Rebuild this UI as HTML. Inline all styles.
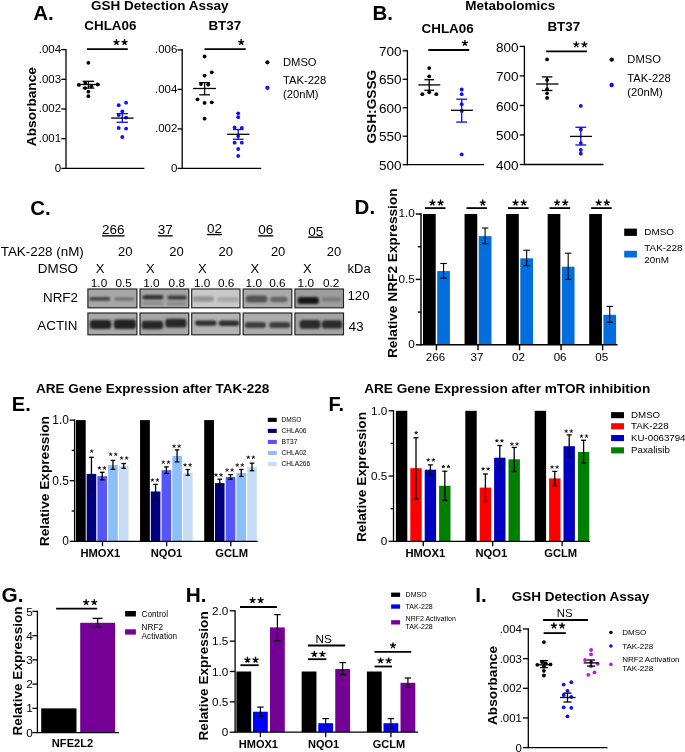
<!DOCTYPE html>
<html><head><meta charset="utf-8"><style>
html,body{margin:0;padding:0;background:#fff;}
body{width:685px;height:752px;overflow:hidden;}
svg{display:block;will-change:transform;font-family:"Liberation Sans",sans-serif;}
</style></head><body>
<svg width="685" height="752" viewBox="0 0 685 752">
<defs><filter id="bl" x="-20%" y="-50%" width="140%" height="200%"><feGaussianBlur stdDeviation="1.1"/></filter><filter id="bl2" x="-20%" y="-50%" width="140%" height="200%"><feGaussianBlur stdDeviation="0.8"/></filter><filter id="soft" x="0" y="0" width="100%" height="100%" filterUnits="userSpaceOnUse"><feGaussianBlur stdDeviation="0.4"/></filter></defs>
<rect width="685" height="752" fill="#fff"/>
<g filter="url(#soft)">
<text x="33.2" y="20" font-size="20.5" font-weight="bold">A.</text>
<text x="91" y="10" font-size="13.5" font-weight="bold">GSH Detection Assay</text>
<text x="84.3" y="30.4" font-size="13.4" font-weight="bold">CHLA06</text>
<line x1="66" y1="48.95" x2="66" y2="169.05" stroke="#000" stroke-width="1.3"/>
<line x1="61.3" y1="49.6" x2="66" y2="49.6" stroke="#000" stroke-width="1.3"/>
<text x="61.14" y="52.83" font-size="11.5" text-anchor="end">.004</text>
<line x1="61.3" y1="79.3" x2="66" y2="79.3" stroke="#000" stroke-width="1.3"/>
<text x="61.14" y="82.53" font-size="11.5" text-anchor="end">.003</text>
<line x1="61.3" y1="109" x2="66" y2="109" stroke="#000" stroke-width="1.3"/>
<text x="61.14" y="112.23" font-size="11.5" text-anchor="end">.002</text>
<line x1="61.3" y1="138.7" x2="66" y2="138.7" stroke="#000" stroke-width="1.3"/>
<text x="61.14" y="141.93" font-size="11.5" text-anchor="end">.001</text>
<line x1="61.3" y1="168.4" x2="66" y2="168.4" stroke="#000" stroke-width="1.3"/>
<text x="61.14" y="171.62" font-size="11.5" text-anchor="end">0</text>
<line x1="66" y1="168.4" x2="144.4" y2="168.4" stroke="#000" stroke-width="1.3"/>
<text transform="translate(35.7,106.6) rotate(-90)" text-anchor="middle" font-size="13.7" font-weight="bold">Absorbance</text>
<line x1="87" y1="49.2" x2="127.8" y2="49.2" stroke="#000" stroke-width="1.8"/>
<path d="M116.45 42.25L116.45 39.1M116.45 42.25L119.45 41.28M116.45 42.25L118.3 44.8M116.45 42.25L114.6 44.8M116.45 42.25L113.45 41.28" stroke="#000" stroke-width="1.35" fill="none"/>
<path d="M124.55 42.25L124.55 39.1M124.55 42.25L127.55 41.28M124.55 42.25L126.4 44.8M124.55 42.25L122.7 44.8M124.55 42.25L121.55 41.28" stroke="#000" stroke-width="1.35" fill="none"/>
<circle cx="88.4" cy="62.8" r="1.9" fill="#000"/>
<circle cx="78.9" cy="84.9" r="1.9" fill="#000"/>
<circle cx="97.7" cy="84.5" r="1.9" fill="#000"/>
<circle cx="91.4" cy="86.3" r="1.9" fill="#000"/>
<circle cx="85.1" cy="88.1" r="1.9" fill="#000"/>
<circle cx="88.4" cy="91.7" r="1.9" fill="#000"/>
<circle cx="88.4" cy="96.2" r="1.9" fill="#000"/>
<circle cx="85.3" cy="82.9" r="1.9" fill="#000"/>
<line x1="77" y1="84.5" x2="99.9" y2="84.5" stroke="#000" stroke-width="1.3"/>
<line x1="88.4" y1="81.3" x2="88.4" y2="88.1" stroke="#000" stroke-width="1.3"/>
<line x1="82.6" y1="81.3" x2="94.2" y2="81.3" stroke="#000" stroke-width="1.3"/>
<line x1="82.6" y1="88.1" x2="94.2" y2="88.1" stroke="#000" stroke-width="1.3"/>
<circle cx="118.7" cy="105.2" r="1.9" fill="#0a0aff"/>
<circle cx="126.1" cy="102.7" r="1.9" fill="#0a0aff"/>
<circle cx="122.3" cy="111.5" r="1.9" fill="#0a0aff"/>
<circle cx="118.7" cy="115.1" r="1.9" fill="#0a0aff"/>
<circle cx="126.1" cy="117.6" r="1.9" fill="#0a0aff"/>
<circle cx="118.7" cy="128" r="1.9" fill="#0a0aff"/>
<circle cx="126.1" cy="128.6" r="1.9" fill="#0a0aff"/>
<circle cx="122.3" cy="137" r="1.9" fill="#0a0aff"/>
<line x1="122.3" y1="113.6" x2="122.3" y2="122.3" stroke="#0a0aff" stroke-width="1.3"/>
<line x1="116.65" y1="113.6" x2="127.95" y2="113.6" stroke="#0a0aff" stroke-width="1.3"/>
<line x1="116.65" y1="122.3" x2="127.95" y2="122.3" stroke="#0a0aff" stroke-width="1.3"/>
<line x1="111.2" y1="118.1" x2="133.6" y2="118.1" stroke="#000" stroke-width="1.3"/>
<text x="208.4" y="30.4" font-size="13.4" font-weight="bold">BT37</text>
<line x1="182.2" y1="49.25" x2="182.2" y2="169.05" stroke="#000" stroke-width="1.3"/>
<line x1="177.5" y1="49.9" x2="182.2" y2="49.9" stroke="#000" stroke-width="1.3"/>
<text x="177.34" y="53.13" font-size="11.5" text-anchor="end">.006</text>
<line x1="177.5" y1="89.4" x2="182.2" y2="89.4" stroke="#000" stroke-width="1.3"/>
<text x="177.34" y="92.63" font-size="11.5" text-anchor="end">.004</text>
<line x1="177.5" y1="128.9" x2="182.2" y2="128.9" stroke="#000" stroke-width="1.3"/>
<text x="177.34" y="132.12" font-size="11.5" text-anchor="end">.002</text>
<line x1="177.5" y1="168.4" x2="182.2" y2="168.4" stroke="#000" stroke-width="1.3"/>
<text x="177.34" y="171.62" font-size="11.5" text-anchor="end">0</text>
<line x1="182.2" y1="168.4" x2="261.2" y2="168.4" stroke="#000" stroke-width="1.3"/>
<line x1="204.6" y1="49.2" x2="245.7" y2="49.2" stroke="#000" stroke-width="1.8"/>
<path d="M241.2 42.25L241.2 39.1M241.2 42.25L244.2 41.28M241.2 42.25L243.05 44.8M241.2 42.25L239.35 44.8M241.2 42.25L238.2 41.28" stroke="#000" stroke-width="1.35" fill="none"/>
<circle cx="204.6" cy="56.5" r="1.9" fill="#000"/>
<circle cx="211.8" cy="72.3" r="1.9" fill="#000"/>
<circle cx="204.6" cy="75.6" r="1.9" fill="#000"/>
<circle cx="201" cy="84" r="1.9" fill="#000"/>
<circle cx="208.2" cy="84.5" r="1.9" fill="#000"/>
<circle cx="197.5" cy="99.3" r="1.9" fill="#000"/>
<circle cx="204.6" cy="102.9" r="1.9" fill="#000"/>
<circle cx="211.8" cy="102.3" r="1.9" fill="#000"/>
<circle cx="204.6" cy="118.7" r="1.9" fill="#000"/>
<line x1="204.6" y1="82.6" x2="204.6" y2="94.8" stroke="#000" stroke-width="1.3"/>
<line x1="199.25" y1="82.6" x2="209.95" y2="82.6" stroke="#000" stroke-width="1.3"/>
<line x1="199.25" y1="94.8" x2="209.95" y2="94.8" stroke="#000" stroke-width="1.3"/>
<line x1="193" y1="88.5" x2="216" y2="88.5" stroke="#000" stroke-width="1.3"/>
<circle cx="238.2" cy="113.3" r="1.9" fill="#0a0aff"/>
<circle cx="238.2" cy="117.2" r="1.9" fill="#0a0aff"/>
<circle cx="234.6" cy="127.5" r="1.9" fill="#0a0aff"/>
<circle cx="241.8" cy="128" r="1.9" fill="#0a0aff"/>
<circle cx="238.2" cy="136.1" r="1.9" fill="#0a0aff"/>
<circle cx="234.6" cy="142.7" r="1.9" fill="#0a0aff"/>
<circle cx="241.8" cy="142.7" r="1.9" fill="#0a0aff"/>
<circle cx="238.2" cy="149" r="1.9" fill="#0a0aff"/>
<circle cx="238.2" cy="155.9" r="1.9" fill="#0a0aff"/>
<line x1="238.2" y1="129.5" x2="238.2" y2="139.3" stroke="#0a0aff" stroke-width="1.3"/>
<line x1="232.95" y1="129.5" x2="243.45" y2="129.5" stroke="#0a0aff" stroke-width="1.3"/>
<line x1="232.95" y1="139.3" x2="243.45" y2="139.3" stroke="#0a0aff" stroke-width="1.3"/>
<line x1="227.1" y1="134.3" x2="249.5" y2="134.3" stroke="#000" stroke-width="1.3"/>
<circle cx="267.4" cy="62.3" r="2.1" fill="#000"/>
<circle cx="267.4" cy="87.8" r="2.1" fill="#0a0aff"/>
<text x="283" y="65.9" font-size="11.2">DMSO</text>
<text x="283" y="84.3" font-size="11.2">TAK-228</text>
<text x="283" y="97.8" font-size="11.2">(20nM)</text>
<text x="372.4" y="20" font-size="20.5" font-weight="bold">B.</text>
<text x="465.3" y="10.2" font-size="13.5" font-weight="bold">Metabolomics</text>
<text x="421.6" y="32.5" font-size="13.4" font-weight="bold">CHLA06</text>
<line x1="407.4" y1="50.15" x2="407.4" y2="165.35" stroke="#000" stroke-width="1.3"/>
<line x1="402.7" y1="50.8" x2="407.4" y2="50.8" stroke="#000" stroke-width="1.3"/>
<text x="401.56" y="55.92" font-size="13.5" text-anchor="end">700</text>
<line x1="402.7" y1="79.27" x2="407.4" y2="79.27" stroke="#000" stroke-width="1.3"/>
<text x="401.56" y="84.4" font-size="13.5" text-anchor="end">650</text>
<line x1="402.7" y1="107.75" x2="407.4" y2="107.75" stroke="#000" stroke-width="1.3"/>
<text x="401.56" y="112.87" font-size="13.5" text-anchor="end">600</text>
<line x1="402.7" y1="136.22" x2="407.4" y2="136.22" stroke="#000" stroke-width="1.3"/>
<text x="401.56" y="141.35" font-size="13.5" text-anchor="end">550</text>
<line x1="402.7" y1="164.7" x2="407.4" y2="164.7" stroke="#000" stroke-width="1.3"/>
<text x="401.56" y="169.82" font-size="13.5" text-anchor="end">500</text>
<line x1="407.4" y1="164.7" x2="484.1" y2="164.7" stroke="#000" stroke-width="1.3"/>
<text transform="translate(375.7,106.7) rotate(-90)" text-anchor="middle" font-size="13.7" font-weight="bold">GSH:GSSG</text>
<line x1="428.3" y1="50" x2="469.2" y2="50" stroke="#000" stroke-width="1.8"/>
<path d="M464.9 43.15L464.9 40M464.9 43.15L467.9 42.18M464.9 43.15L466.75 45.7M464.9 43.15L463.05 45.7M464.9 43.15L461.9 42.18" stroke="#000" stroke-width="1.35" fill="none"/>
<circle cx="429.2" cy="68.1" r="1.9" fill="#000"/>
<circle cx="429.2" cy="76.3" r="1.9" fill="#000"/>
<circle cx="422.3" cy="94.2" r="1.9" fill="#000"/>
<circle cx="429.2" cy="92.3" r="1.9" fill="#000"/>
<circle cx="436.3" cy="94.2" r="1.9" fill="#000"/>
<line x1="429.2" y1="79.7" x2="429.2" y2="90.3" stroke="#000" stroke-width="1.3"/>
<line x1="424.35" y1="79.7" x2="434.05" y2="79.7" stroke="#000" stroke-width="1.3"/>
<line x1="424.35" y1="90.3" x2="434.05" y2="90.3" stroke="#000" stroke-width="1.3"/>
<line x1="418.4" y1="84.9" x2="440.3" y2="84.9" stroke="#000" stroke-width="1.3"/>
<circle cx="461.7" cy="89.5" r="1.9" fill="#0a0aff"/>
<circle cx="461.7" cy="94.2" r="1.9" fill="#0a0aff"/>
<circle cx="461.7" cy="104.2" r="1.9" fill="#0a0aff"/>
<circle cx="461.7" cy="110.9" r="1.9" fill="#0a0aff"/>
<circle cx="461.7" cy="154.4" r="1.9" fill="#0a0aff"/>
<line x1="461.7" y1="99.2" x2="461.7" y2="122.1" stroke="#0a0aff" stroke-width="1.3"/>
<line x1="456.3" y1="99.2" x2="467.1" y2="99.2" stroke="#0a0aff" stroke-width="1.3"/>
<line x1="456.3" y1="122.1" x2="467.1" y2="122.1" stroke="#0a0aff" stroke-width="1.3"/>
<line x1="451" y1="110.3" x2="472.9" y2="110.3" stroke="#000" stroke-width="1.3"/>
<text x="547.4" y="30.7" font-size="13.4" font-weight="bold">BT37</text>
<line x1="524.4" y1="45.75" x2="524.4" y2="165.15" stroke="#000" stroke-width="1.3"/>
<line x1="519.7" y1="46.4" x2="524.4" y2="46.4" stroke="#000" stroke-width="1.3"/>
<text x="518.56" y="51.53" font-size="13.5" text-anchor="end">800</text>
<line x1="519.7" y1="75.93" x2="524.4" y2="75.93" stroke="#000" stroke-width="1.3"/>
<text x="518.56" y="81.05" font-size="13.5" text-anchor="end">700</text>
<line x1="519.7" y1="105.45" x2="524.4" y2="105.45" stroke="#000" stroke-width="1.3"/>
<text x="518.56" y="110.58" font-size="13.5" text-anchor="end">600</text>
<line x1="519.7" y1="134.97" x2="524.4" y2="134.97" stroke="#000" stroke-width="1.3"/>
<text x="518.56" y="140.1" font-size="13.5" text-anchor="end">500</text>
<line x1="519.7" y1="164.5" x2="524.4" y2="164.5" stroke="#000" stroke-width="1.3"/>
<text x="518.56" y="169.62" font-size="13.5" text-anchor="end">400</text>
<line x1="524.4" y1="164.5" x2="603.5" y2="164.5" stroke="#000" stroke-width="1.3"/>
<line x1="546.2" y1="51.3" x2="586.9" y2="51.3" stroke="#000" stroke-width="1.8"/>
<path d="M576.35 44.55L576.35 41.4M576.35 44.55L579.35 43.58M576.35 44.55L578.2 47.1M576.35 44.55L574.5 47.1M576.35 44.55L573.35 43.58" stroke="#000" stroke-width="1.35" fill="none"/>
<path d="M584.45 44.55L584.45 41.4M584.45 44.55L587.45 43.58M584.45 44.55L586.3 47.1M584.45 44.55L582.6 47.1M584.45 44.55L581.45 43.58" stroke="#000" stroke-width="1.35" fill="none"/>
<circle cx="547.1" cy="59.4" r="1.9" fill="#000"/>
<circle cx="547.1" cy="79.9" r="1.9" fill="#000"/>
<circle cx="547.1" cy="89.2" r="1.9" fill="#000"/>
<circle cx="547.1" cy="93.3" r="1.9" fill="#000"/>
<circle cx="547.1" cy="97.9" r="1.9" fill="#000"/>
<line x1="547.1" y1="76.9" x2="547.1" y2="90.5" stroke="#000" stroke-width="1.3"/>
<line x1="541.8" y1="76.9" x2="552.4" y2="76.9" stroke="#000" stroke-width="1.3"/>
<line x1="541.8" y1="90.5" x2="552.4" y2="90.5" stroke="#000" stroke-width="1.3"/>
<line x1="536.1" y1="84" x2="558.5" y2="84" stroke="#000" stroke-width="1.3"/>
<circle cx="580.8" cy="105.9" r="1.9" fill="#0a0aff"/>
<circle cx="580.8" cy="129.5" r="1.9" fill="#0a0aff"/>
<circle cx="580.8" cy="143.1" r="1.9" fill="#0a0aff"/>
<circle cx="580.8" cy="150" r="1.9" fill="#0a0aff"/>
<circle cx="580.8" cy="153.7" r="1.9" fill="#0a0aff"/>
<line x1="580.8" y1="127.3" x2="580.8" y2="145" stroke="#0a0aff" stroke-width="1.3"/>
<line x1="575.4" y1="127.3" x2="586.2" y2="127.3" stroke="#0a0aff" stroke-width="1.3"/>
<line x1="575.4" y1="145" x2="586.2" y2="145" stroke="#0a0aff" stroke-width="1.3"/>
<line x1="570" y1="136.4" x2="592" y2="136.4" stroke="#000" stroke-width="1.3"/>
<circle cx="611.7" cy="59.6" r="2.2" fill="#000"/>
<circle cx="611.7" cy="85" r="2.2" fill="#0a0aff"/>
<text x="627.3" y="63.4" font-size="11.2">DMSO</text>
<text x="627.3" y="82.3" font-size="11.2">TAK-228</text>
<text x="627.3" y="95.6" font-size="11.2">(20nM)</text>
<text x="30.2" y="214.5" font-size="20.5" font-weight="bold">C.</text>
<text x="102" y="234.2" font-size="13.5" text-decoration="underline">266</text>
<text x="157.7" y="234.2" font-size="13.5" text-decoration="underline">37</text>
<text x="206.9" y="232.9" font-size="13.5" text-decoration="underline">02</text>
<text x="258.2" y="234.2" font-size="13.5" text-decoration="underline">06</text>
<text x="308.2" y="235.5" font-size="13.5" text-decoration="underline">05</text>
<text x="83.8" y="256.1" font-size="13.4" text-anchor="end">TAK-228 (nM)</text>
<text x="118" y="256" font-size="13">20</text>
<text x="169.2" y="256" font-size="13">20</text>
<text x="218.5" y="256" font-size="13">20</text>
<text x="270.9" y="256" font-size="13">20</text>
<text x="326.8" y="256" font-size="13">20</text>
<text x="78" y="273" font-size="13.4" text-anchor="end">DMSO</text>
<text x="95.7" y="273" font-size="13">X</text>
<text x="146.1" y="273" font-size="13">X</text>
<text x="198.1" y="273" font-size="13">X</text>
<text x="250.5" y="273" font-size="13">X</text>
<text x="303" y="273" font-size="13">X</text>
<text x="347.5" y="273.2" font-size="13">kDa</text>
<text x="90.8" y="287.2" font-size="11.8">1.0</text>
<text x="143.2" y="287.2" font-size="11.8">1.0</text>
<text x="194" y="287.2" font-size="11.8">1.0</text>
<text x="245.6" y="287.2" font-size="11.8">1.0</text>
<text x="297.6" y="287.2" font-size="11.8">1.0</text>
<text x="115.4" y="287.2" font-size="11.8">0.5</text>
<text x="168.6" y="287.2" font-size="11.8">0.8</text>
<text x="217.9" y="287.2" font-size="11.8">0.6</text>
<text x="269.2" y="287.2" font-size="11.8">0.6</text>
<text x="323" y="287.2" font-size="11.8">0.2</text>
<text x="78" y="302.1" font-size="13.4" text-anchor="end">NRF2</text>
<text x="77.5" y="330.2" font-size="13.4" text-anchor="end">ACTIN</text>
<text x="347.5" y="300.1" font-size="13.2">120</text>
<text x="348.8" y="330.5" font-size="13.2">43</text>
<rect x="87.9" y="289" width="49" height="18.8" fill="#a7a7a7"/>
<g filter="url(#bl)">
<rect x="89.3" y="297.1" width="20.9" height="3.6" rx="1.8" fill="#454545"/>
<rect x="114.2" y="297.4" width="19.8" height="3" rx="1.5" fill="#6a6a6a"/>
</g>
<rect x="87.9" y="289" width="49" height="18.8" fill="none" stroke="#222" stroke-width="1.15"/>
<rect x="87.9" y="313" width="49" height="21.8" fill="#a9a9a9"/>
<g filter="url(#bl2)">
<rect x="89.8" y="319.9" width="21.5" height="9" rx="3.2" fill="#222222"/>
<rect x="113.8" y="319.6" width="22.2" height="9.4" rx="3.2" fill="#222222"/>
</g>
<rect x="87.9" y="313" width="49" height="21.8" fill="none" stroke="#222" stroke-width="1.15"/>
<rect x="140" y="289" width="48.8" height="18.8" fill="#a5a5a5"/>
<g filter="url(#bl)">
<rect x="142.4" y="295.1" width="21" height="4.4" rx="2.2" fill="#333333"/>
<rect x="167.3" y="295.4" width="19.5" height="4.4" rx="2.2" fill="#3e3e3e"/>
<rect x="142" y="302" width="21" height="2.6" rx="1.3" fill="#878787"/>
<rect x="167" y="302.3" width="19.5" height="2.6" rx="1.3" fill="#838383"/>
</g>
<rect x="140" y="289" width="48.8" height="18.8" fill="none" stroke="#222" stroke-width="1.15"/>
<rect x="140" y="313" width="48.8" height="21.8" fill="#a6a6a6"/>
<g filter="url(#bl2)">
<rect x="141.6" y="320.8" width="21.5" height="8.4" rx="3.2" fill="#252525"/>
<rect x="165.3" y="318.8" width="21.1" height="8.8" rx="3.2" fill="#252525"/>
</g>
<rect x="140" y="313" width="48.8" height="21.8" fill="none" stroke="#222" stroke-width="1.15"/>
<rect x="191.7" y="289" width="48.3" height="18.8" fill="#c9c9c9"/>
<g filter="url(#bl)">
<rect x="192.8" y="296.25" width="21.2" height="5.5" rx="2.75" fill="#959595"/>
<rect x="217" y="296.9" width="21.5" height="5" rx="2.5" fill="#a8a8a8"/>
</g>
<rect x="191.7" y="289" width="48.3" height="18.8" fill="none" stroke="#222" stroke-width="1.15"/>
<rect x="191.7" y="313" width="48.3" height="21.8" fill="#b3b3b3"/>
<g filter="url(#bl2)">
<rect x="195" y="320.4" width="21.6" height="5.4" rx="2.7" fill="#2e2e2e"/>
<rect x="218.7" y="320.6" width="20.5" height="5.4" rx="2.7" fill="#2e2e2e"/>
</g>
<rect x="191.7" y="313" width="48.3" height="21.8" fill="none" stroke="#222" stroke-width="1.15"/>
<rect x="243.1" y="289" width="48.7" height="18.8" fill="#aaaaaa"/>
<g filter="url(#bl)">
<rect x="245.8" y="295.5" width="21.7" height="7" rx="3.2" fill="#525252"/>
<rect x="270.2" y="296.7" width="17.3" height="5.6" rx="2.8" fill="#646464"/>
</g>
<rect x="243.1" y="289" width="48.7" height="18.8" fill="none" stroke="#222" stroke-width="1.15"/>
<rect x="243.1" y="313" width="48.7" height="21.8" fill="#ababab"/>
<g filter="url(#bl2)">
<rect x="244.8" y="321.9" width="21.2" height="6.2" rx="3.1" fill="#3e3e3e"/>
<rect x="269.2" y="321.9" width="21.1" height="6.2" rx="3.1" fill="#3e3e3e"/>
</g>
<rect x="243.1" y="313" width="48.7" height="21.8" fill="none" stroke="#222" stroke-width="1.15"/>
<rect x="294.9" y="289" width="48.6" height="18.8" fill="#9d9d9d"/>
<g filter="url(#bl)">
<rect x="297.6" y="296.9" width="21.3" height="7" rx="3.2" fill="#121212"/>
<rect x="321.7" y="297.2" width="19.7" height="4.2" rx="2.1" fill="#7c7c7c"/>
</g>
<rect x="294.9" y="289" width="48.6" height="18.8" fill="none" stroke="#222" stroke-width="1.15"/>
<rect x="294.9" y="313" width="48.6" height="21.8" fill="#a3a3a3"/>
<g filter="url(#bl2)">
<rect x="299.6" y="320" width="20.9" height="8.8" rx="3.2" fill="#2b2b2b"/>
<rect x="322" y="320.2" width="20.1" height="8.4" rx="3.2" fill="#2b2b2b"/>
</g>
<rect x="294.9" y="313" width="48.6" height="21.8" fill="none" stroke="#222" stroke-width="1.15"/>
<text x="354.6" y="214.2" font-size="20.5" font-weight="bold">D.</text>
<line x1="421" y1="213.28" x2="421" y2="345.53" stroke="#000" stroke-width="1.45"/>
<line x1="415.8" y1="214" x2="421" y2="214" stroke="#000" stroke-width="1.45"/>
<text x="414.86" y="217.33" font-size="11.8" text-anchor="end">1.0</text>
<line x1="415.8" y1="279.4" x2="421" y2="279.4" stroke="#000" stroke-width="1.45"/>
<text x="414.86" y="282.73" font-size="11.8" text-anchor="end">0.5</text>
<line x1="415.8" y1="344.8" x2="421" y2="344.8" stroke="#000" stroke-width="1.45"/>
<text x="414.86" y="348.13" font-size="11.8" text-anchor="end">0</text>
<line x1="417.88" y1="246.7" x2="421" y2="246.7" stroke="#000" stroke-width="1.45"/>
<line x1="417.88" y1="312.1" x2="421" y2="312.1" stroke="#000" stroke-width="1.45"/>
<text transform="translate(396.5,273.2) rotate(-90)" text-anchor="middle" font-size="13.7" font-weight="bold">Relative NRF2 Expression</text>
<rect x="423" y="214" width="12.7" height="130.8" fill="#000"/>
<rect x="437.2" y="271.1" width="12.7" height="73.7" fill="#006edc"/>
<line x1="443.55" y1="263.5" x2="443.55" y2="278.1" stroke="#000" stroke-width="1.1"/>
<line x1="440.3" y1="263.5" x2="446.8" y2="263.5" stroke="#000" stroke-width="1.1"/>
<line x1="440.3" y1="278.1" x2="446.8" y2="278.1" stroke="#000" stroke-width="1.1"/>
<line x1="436.45" y1="344.8" x2="436.45" y2="350.3" stroke="#000" stroke-width="1.4"/>
<text x="435.45" y="360.9" font-size="11.6" text-anchor="middle">266</text>
<line x1="424.9" y1="208.1" x2="445.5" y2="208.1" stroke="#000" stroke-width="1.8"/>
<path d="M432.45 202.75L432.45 199.6M432.45 202.75L435.45 201.78M432.45 202.75L434.3 205.3M432.45 202.75L430.6 205.3M432.45 202.75L429.45 201.78" stroke="#000" stroke-width="1.35" fill="none"/>
<path d="M440.55 202.75L440.55 199.6M440.55 202.75L443.55 201.78M440.55 202.75L442.4 205.3M440.55 202.75L438.7 205.3M440.55 202.75L437.55 201.78" stroke="#000" stroke-width="1.35" fill="none"/>
<rect x="464.55" y="214" width="12.7" height="130.8" fill="#000"/>
<rect x="478.75" y="236.1" width="12.7" height="108.7" fill="#006edc"/>
<line x1="485.1" y1="228" x2="485.1" y2="243.7" stroke="#000" stroke-width="1.1"/>
<line x1="481.85" y1="228" x2="488.35" y2="228" stroke="#000" stroke-width="1.1"/>
<line x1="481.85" y1="243.7" x2="488.35" y2="243.7" stroke="#000" stroke-width="1.1"/>
<line x1="478" y1="344.8" x2="478" y2="350.3" stroke="#000" stroke-width="1.4"/>
<text x="477" y="360.9" font-size="11.6" text-anchor="middle">37</text>
<line x1="466.45" y1="208.1" x2="487.05" y2="208.1" stroke="#000" stroke-width="1.8"/>
<path d="M482.75 202.75L482.75 199.6M482.75 202.75L485.75 201.78M482.75 202.75L484.6 205.3M482.75 202.75L480.9 205.3M482.75 202.75L479.75 201.78" stroke="#000" stroke-width="1.35" fill="none"/>
<rect x="506.1" y="214" width="12.7" height="130.8" fill="#000"/>
<rect x="520.3" y="258.3" width="12.7" height="86.5" fill="#006edc"/>
<line x1="526.65" y1="250.2" x2="526.65" y2="265.6" stroke="#000" stroke-width="1.1"/>
<line x1="523.4" y1="250.2" x2="529.9" y2="250.2" stroke="#000" stroke-width="1.1"/>
<line x1="523.4" y1="265.6" x2="529.9" y2="265.6" stroke="#000" stroke-width="1.1"/>
<line x1="519.55" y1="344.8" x2="519.55" y2="350.3" stroke="#000" stroke-width="1.4"/>
<text x="518.55" y="360.9" font-size="11.6" text-anchor="middle">02</text>
<line x1="508" y1="208.1" x2="528.6" y2="208.1" stroke="#000" stroke-width="1.8"/>
<path d="M515.55 202.75L515.55 199.6M515.55 202.75L518.55 201.78M515.55 202.75L517.4 205.3M515.55 202.75L513.7 205.3M515.55 202.75L512.55 201.78" stroke="#000" stroke-width="1.35" fill="none"/>
<path d="M523.65 202.75L523.65 199.6M523.65 202.75L526.65 201.78M523.65 202.75L525.5 205.3M523.65 202.75L521.8 205.3M523.65 202.75L520.65 201.78" stroke="#000" stroke-width="1.35" fill="none"/>
<rect x="547.65" y="214" width="12.7" height="130.8" fill="#000"/>
<rect x="561.85" y="266.7" width="12.7" height="78.1" fill="#006edc"/>
<line x1="568.2" y1="253.2" x2="568.2" y2="279.4" stroke="#000" stroke-width="1.1"/>
<line x1="564.95" y1="253.2" x2="571.45" y2="253.2" stroke="#000" stroke-width="1.1"/>
<line x1="564.95" y1="279.4" x2="571.45" y2="279.4" stroke="#000" stroke-width="1.1"/>
<line x1="561.1" y1="344.8" x2="561.1" y2="350.3" stroke="#000" stroke-width="1.4"/>
<text x="560.1" y="360.9" font-size="11.6" text-anchor="middle">06</text>
<line x1="549.55" y1="208.1" x2="570.15" y2="208.1" stroke="#000" stroke-width="1.8"/>
<path d="M557.1 202.75L557.1 199.6M557.1 202.75L560.1 201.78M557.1 202.75L558.95 205.3M557.1 202.75L555.25 205.3M557.1 202.75L554.1 201.78" stroke="#000" stroke-width="1.35" fill="none"/>
<path d="M565.2 202.75L565.2 199.6M565.2 202.75L568.2 201.78M565.2 202.75L567.05 205.3M565.2 202.75L563.35 205.3M565.2 202.75L562.2 201.78" stroke="#000" stroke-width="1.35" fill="none"/>
<rect x="589.2" y="214" width="12.7" height="130.8" fill="#000"/>
<rect x="603.4" y="314.8" width="12.7" height="30" fill="#006edc"/>
<line x1="609.75" y1="306.4" x2="609.75" y2="322.3" stroke="#000" stroke-width="1.1"/>
<line x1="606.5" y1="306.4" x2="613" y2="306.4" stroke="#000" stroke-width="1.1"/>
<line x1="606.5" y1="322.3" x2="613" y2="322.3" stroke="#000" stroke-width="1.1"/>
<line x1="602.65" y1="344.8" x2="602.65" y2="350.3" stroke="#000" stroke-width="1.4"/>
<text x="601.65" y="360.9" font-size="11.6" text-anchor="middle">05</text>
<line x1="591.1" y1="208.1" x2="611.7" y2="208.1" stroke="#000" stroke-width="1.8"/>
<path d="M598.65 202.75L598.65 199.6M598.65 202.75L601.65 201.78M598.65 202.75L600.5 205.3M598.65 202.75L596.8 205.3M598.65 202.75L595.65 201.78" stroke="#000" stroke-width="1.35" fill="none"/>
<path d="M606.75 202.75L606.75 199.6M606.75 202.75L609.75 201.78M606.75 202.75L608.6 205.3M606.75 202.75L604.9 205.3M606.75 202.75L603.75 201.78" stroke="#000" stroke-width="1.35" fill="none"/>
<line x1="421" y1="344.8" x2="617.5" y2="344.8" stroke="#000" stroke-width="1.45"/>
<rect x="624.2" y="228.6" width="12.7" height="7.3" fill="#000"/>
<rect x="624.2" y="250.8" width="12.7" height="6.7" fill="#006edc"/>
<text x="644.3" y="235.3" font-size="9.9">DMSO</text>
<text x="644.3" y="251.3" font-size="9.9">TAK-228</text>
<text x="644.3" y="262.8" font-size="9.9">20nM</text>
<text x="11.8" y="411.4" font-size="20" font-weight="bold">E.</text>
<text x="36.1" y="393.4" font-size="13.5" font-weight="bold">ARE Gene Expression after TAK-228</text>
<line x1="74.6" y1="419.45" x2="74.6" y2="541.95" stroke="#000" stroke-width="1.3"/>
<line x1="69.7" y1="420.1" x2="74.6" y2="420.1" stroke="#000" stroke-width="1.3"/>
<text x="68.87" y="424.26" font-size="11.9" text-anchor="end">1.0</text>
<line x1="69.7" y1="480.7" x2="74.6" y2="480.7" stroke="#000" stroke-width="1.3"/>
<text x="68.87" y="484.86" font-size="11.9" text-anchor="end">0.5</text>
<line x1="69.7" y1="541.3" x2="74.6" y2="541.3" stroke="#000" stroke-width="1.3"/>
<text x="68.87" y="545.46" font-size="11.9" text-anchor="end">0</text>
<line x1="71.66" y1="450.4" x2="74.6" y2="450.4" stroke="#000" stroke-width="1.3"/>
<line x1="71.66" y1="511" x2="74.6" y2="511" stroke="#000" stroke-width="1.3"/>
<text transform="translate(49.1,481.1) rotate(-90)" text-anchor="middle" font-size="13.7" font-weight="bold">Relative Expression</text>
<rect x="75.9" y="420.1" width="9.8" height="121.2" fill="#000"/>
<rect x="86.65" y="473.9" width="9.6" height="67.4" fill="#00007f"/>
<rect x="97.4" y="476.1" width="9.6" height="65.2" fill="#5555fa"/>
<rect x="108.15" y="465" width="9.6" height="76.3" fill="#8cbef8"/>
<rect x="118.9" y="465.9" width="9.6" height="75.4" fill="#c6dcf7"/>
<line x1="91.45" y1="457.3" x2="91.45" y2="490" stroke="#000" stroke-width="1.3"/>
<line x1="89.15" y1="457.3" x2="93.75" y2="457.3" stroke="#000" stroke-width="1.3"/>
<line x1="89.15" y1="490" x2="93.75" y2="490" stroke="#000" stroke-width="1.3"/>
<path d="M91.7 451.25L91.7 449.5M91.7 451.25L93.36 450.71M91.7 451.25L92.73 452.67M91.7 451.25L90.67 452.67M91.7 451.25L90.04 450.71" stroke="#000" stroke-width="0.95" fill="none"/>
<line x1="102.2" y1="472.3" x2="102.2" y2="479.8" stroke="#000" stroke-width="1.3"/>
<line x1="99.9" y1="472.3" x2="104.5" y2="472.3" stroke="#000" stroke-width="1.3"/>
<line x1="99.9" y1="479.8" x2="104.5" y2="479.8" stroke="#000" stroke-width="1.3"/>
<path d="M99.35 468.05L99.35 466.3M99.35 468.05L101.01 467.51M99.35 468.05L100.38 469.47M99.35 468.05L98.32 469.47M99.35 468.05L97.69 467.51" stroke="#000" stroke-width="0.95" fill="none"/>
<path d="M104.45 468.05L104.45 466.3M104.45 468.05L106.11 467.51M104.45 468.05L105.48 469.47M104.45 468.05L103.42 469.47M104.45 468.05L102.79 467.51" stroke="#000" stroke-width="0.95" fill="none"/>
<line x1="112.95" y1="460.4" x2="112.95" y2="469.3" stroke="#000" stroke-width="1.3"/>
<line x1="110.65" y1="460.4" x2="115.25" y2="460.4" stroke="#000" stroke-width="1.3"/>
<line x1="110.65" y1="469.3" x2="115.25" y2="469.3" stroke="#000" stroke-width="1.3"/>
<path d="M110.65 454.35L110.65 452.6M110.65 454.35L112.31 453.81M110.65 454.35L111.68 455.77M110.65 454.35L109.62 455.77M110.65 454.35L108.99 453.81" stroke="#000" stroke-width="0.95" fill="none"/>
<path d="M115.75 454.35L115.75 452.6M115.75 454.35L117.41 453.81M115.75 454.35L116.78 455.77M115.75 454.35L114.72 455.77M115.75 454.35L114.09 453.81" stroke="#000" stroke-width="0.95" fill="none"/>
<line x1="123.7" y1="463.5" x2="123.7" y2="468.3" stroke="#000" stroke-width="1.3"/>
<line x1="121.4" y1="463.5" x2="126" y2="463.5" stroke="#000" stroke-width="1.3"/>
<line x1="121.4" y1="468.3" x2="126" y2="468.3" stroke="#000" stroke-width="1.3"/>
<path d="M121.55 458.15L121.55 456.4M121.55 458.15L123.21 457.61M121.55 458.15L122.58 459.57M121.55 458.15L120.52 459.57M121.55 458.15L119.89 457.61" stroke="#000" stroke-width="0.95" fill="none"/>
<path d="M126.65 458.15L126.65 456.4M126.65 458.15L128.31 457.61M126.65 458.15L127.68 459.57M126.65 458.15L125.62 459.57M126.65 458.15L124.99 457.61" stroke="#000" stroke-width="0.95" fill="none"/>
<line x1="102.5" y1="541.3" x2="102.5" y2="546.3" stroke="#000" stroke-width="1.3"/>
<text x="100.3" y="557.1" font-size="11.2" font-weight="bold" text-anchor="middle">HMOX1</text>
<rect x="140.05" y="420.1" width="9.8" height="121.2" fill="#000"/>
<rect x="150.8" y="491.5" width="9.6" height="49.8" fill="#00007f"/>
<rect x="161.55" y="470.2" width="9.6" height="71.1" fill="#5555fa"/>
<rect x="172.3" y="456" width="9.6" height="85.3" fill="#8cbef8"/>
<rect x="183.05" y="472.8" width="9.6" height="68.5" fill="#c6dcf7"/>
<line x1="155.6" y1="484.4" x2="155.6" y2="499.6" stroke="#000" stroke-width="1.3"/>
<line x1="153.3" y1="484.4" x2="157.9" y2="484.4" stroke="#000" stroke-width="1.3"/>
<line x1="153.3" y1="499.6" x2="157.9" y2="499.6" stroke="#000" stroke-width="1.3"/>
<path d="M152.35 480.15L152.35 478.4M152.35 480.15L154.01 479.61M152.35 480.15L153.38 481.57M152.35 480.15L151.32 481.57M152.35 480.15L150.69 479.61" stroke="#000" stroke-width="0.95" fill="none"/>
<path d="M157.45 480.15L157.45 478.4M157.45 480.15L159.11 479.61M157.45 480.15L158.48 481.57M157.45 480.15L156.42 481.57M157.45 480.15L155.79 479.61" stroke="#000" stroke-width="0.95" fill="none"/>
<line x1="166.35" y1="466.9" x2="166.35" y2="473.4" stroke="#000" stroke-width="1.3"/>
<line x1="164.05" y1="466.9" x2="168.65" y2="466.9" stroke="#000" stroke-width="1.3"/>
<line x1="164.05" y1="473.4" x2="168.65" y2="473.4" stroke="#000" stroke-width="1.3"/>
<path d="M163.35 462.25L163.35 460.5M163.35 462.25L165.01 461.71M163.35 462.25L164.38 463.67M163.35 462.25L162.32 463.67M163.35 462.25L161.69 461.71" stroke="#000" stroke-width="0.95" fill="none"/>
<path d="M168.45 462.25L168.45 460.5M168.45 462.25L170.11 461.71M168.45 462.25L169.48 463.67M168.45 462.25L167.42 463.67M168.45 462.25L166.79 461.71" stroke="#000" stroke-width="0.95" fill="none"/>
<line x1="177.1" y1="449.9" x2="177.1" y2="461.9" stroke="#000" stroke-width="1.3"/>
<line x1="174.8" y1="449.9" x2="179.4" y2="449.9" stroke="#000" stroke-width="1.3"/>
<line x1="174.8" y1="461.9" x2="179.4" y2="461.9" stroke="#000" stroke-width="1.3"/>
<path d="M174.05 446.25L174.05 444.5M174.05 446.25L175.71 445.71M174.05 446.25L175.08 447.67M174.05 446.25L173.02 447.67M174.05 446.25L172.39 445.71" stroke="#000" stroke-width="0.95" fill="none"/>
<path d="M179.15 446.25L179.15 444.5M179.15 446.25L180.81 445.71M179.15 446.25L180.18 447.67M179.15 446.25L178.12 447.67M179.15 446.25L177.49 445.71" stroke="#000" stroke-width="0.95" fill="none"/>
<line x1="187.85" y1="469.5" x2="187.85" y2="475.3" stroke="#000" stroke-width="1.3"/>
<line x1="185.55" y1="469.5" x2="190.15" y2="469.5" stroke="#000" stroke-width="1.3"/>
<line x1="185.55" y1="475.3" x2="190.15" y2="475.3" stroke="#000" stroke-width="1.3"/>
<path d="M185.05 465.05L185.05 463.3M185.05 465.05L186.71 464.51M185.05 465.05L186.08 466.47M185.05 465.05L184.02 466.47M185.05 465.05L183.39 464.51" stroke="#000" stroke-width="0.95" fill="none"/>
<path d="M190.15 465.05L190.15 463.3M190.15 465.05L191.81 464.51M190.15 465.05L191.18 466.47M190.15 465.05L189.12 466.47M190.15 465.05L188.49 464.51" stroke="#000" stroke-width="0.95" fill="none"/>
<line x1="166.65" y1="541.3" x2="166.65" y2="546.3" stroke="#000" stroke-width="1.3"/>
<text x="166.5" y="557.1" font-size="11.2" font-weight="bold" text-anchor="middle">NQO1</text>
<rect x="204.2" y="420.1" width="9.8" height="121.2" fill="#000"/>
<rect x="214.95" y="483.1" width="9.6" height="58.2" fill="#00007f"/>
<rect x="225.7" y="477" width="9.6" height="64.3" fill="#5555fa"/>
<rect x="236.45" y="472.9" width="9.6" height="68.4" fill="#8cbef8"/>
<rect x="247.2" y="467" width="9.6" height="74.3" fill="#c6dcf7"/>
<line x1="219.75" y1="479.2" x2="219.75" y2="486.8" stroke="#000" stroke-width="1.3"/>
<line x1="217.45" y1="479.2" x2="222.05" y2="479.2" stroke="#000" stroke-width="1.3"/>
<line x1="217.45" y1="486.8" x2="222.05" y2="486.8" stroke="#000" stroke-width="1.3"/>
<path d="M215.95 475.05L215.95 473.3M215.95 475.05L217.61 474.51M215.95 475.05L216.98 476.47M215.95 475.05L214.92 476.47M215.95 475.05L214.29 474.51" stroke="#000" stroke-width="0.95" fill="none"/>
<path d="M221.05 475.05L221.05 473.3M221.05 475.05L222.71 474.51M221.05 475.05L222.08 476.47M221.05 475.05L220.02 476.47M221.05 475.05L219.39 474.51" stroke="#000" stroke-width="0.95" fill="none"/>
<line x1="230.5" y1="474.6" x2="230.5" y2="479.2" stroke="#000" stroke-width="1.3"/>
<line x1="228.2" y1="474.6" x2="232.8" y2="474.6" stroke="#000" stroke-width="1.3"/>
<line x1="228.2" y1="479.2" x2="232.8" y2="479.2" stroke="#000" stroke-width="1.3"/>
<path d="M227.05 470.15L227.05 468.4M227.05 470.15L228.71 469.61M227.05 470.15L228.08 471.57M227.05 470.15L226.02 471.57M227.05 470.15L225.39 469.61" stroke="#000" stroke-width="0.95" fill="none"/>
<path d="M232.15 470.15L232.15 468.4M232.15 470.15L233.81 469.61M232.15 470.15L233.18 471.57M232.15 470.15L231.12 471.57M232.15 470.15L230.49 469.61" stroke="#000" stroke-width="0.95" fill="none"/>
<line x1="241.25" y1="469.5" x2="241.25" y2="476.4" stroke="#000" stroke-width="1.3"/>
<line x1="238.95" y1="469.5" x2="243.55" y2="469.5" stroke="#000" stroke-width="1.3"/>
<line x1="238.95" y1="476.4" x2="243.55" y2="476.4" stroke="#000" stroke-width="1.3"/>
<path d="M237.25 465.15L237.25 463.4M237.25 465.15L238.91 464.61M237.25 465.15L238.28 466.57M237.25 465.15L236.22 466.57M237.25 465.15L235.59 464.61" stroke="#000" stroke-width="0.95" fill="none"/>
<path d="M242.35 465.15L242.35 463.4M242.35 465.15L244.01 464.61M242.35 465.15L243.38 466.57M242.35 465.15L241.32 466.57M242.35 465.15L240.69 464.61" stroke="#000" stroke-width="0.95" fill="none"/>
<line x1="252" y1="463.2" x2="252" y2="470.7" stroke="#000" stroke-width="1.3"/>
<line x1="249.7" y1="463.2" x2="254.3" y2="463.2" stroke="#000" stroke-width="1.3"/>
<line x1="249.7" y1="470.7" x2="254.3" y2="470.7" stroke="#000" stroke-width="1.3"/>
<path d="M248.25 457.35L248.25 455.6M248.25 457.35L249.91 456.81M248.25 457.35L249.28 458.77M248.25 457.35L247.22 458.77M248.25 457.35L246.59 456.81" stroke="#000" stroke-width="0.95" fill="none"/>
<path d="M253.35 457.35L253.35 455.6M253.35 457.35L255.01 456.81M253.35 457.35L254.38 458.77M253.35 457.35L252.32 458.77M253.35 457.35L251.69 456.81" stroke="#000" stroke-width="0.95" fill="none"/>
<line x1="230.8" y1="541.3" x2="230.8" y2="546.3" stroke="#000" stroke-width="1.3"/>
<text x="231.7" y="557.1" font-size="11.2" font-weight="bold" text-anchor="middle">GCLM</text>
<line x1="74.6" y1="541.3" x2="257.7" y2="541.3" stroke="#000" stroke-width="1.3"/>
<rect x="267.8" y="417.8" width="9" height="4.1" fill="#000000"/>
<text x="281.6" y="422" font-size="6.6">DMSO</text>
<rect x="267.8" y="428.85" width="9" height="4.1" fill="#00007f"/>
<text x="281.6" y="433.05" font-size="6.6">CHLA06</text>
<rect x="267.8" y="439.9" width="9" height="4.1" fill="#5555fa"/>
<text x="281.6" y="444.1" font-size="6.6">BT37</text>
<rect x="267.8" y="450.95" width="9" height="4.1" fill="#8cbef8"/>
<text x="281.6" y="455.15" font-size="6.6">CHLA02</text>
<rect x="267.8" y="462" width="9" height="4.1" fill="#c6dcf7"/>
<text x="281.6" y="466.2" font-size="6.6">CHLA266</text>
<text x="328.6" y="410.7" font-size="20" font-weight="bold">F.</text>
<text x="364.2" y="392.7" font-size="13.6" font-weight="bold">ARE Gene Expression after mTOR inhibition</text>
<line x1="393.5" y1="410.15" x2="393.5" y2="541.95" stroke="#000" stroke-width="1.3"/>
<line x1="388.6" y1="410.8" x2="393.5" y2="410.8" stroke="#000" stroke-width="1.3"/>
<text x="387.26" y="414.89" font-size="11.7" text-anchor="end">1.0</text>
<line x1="388.6" y1="476.05" x2="393.5" y2="476.05" stroke="#000" stroke-width="1.3"/>
<text x="387.26" y="480.14" font-size="11.7" text-anchor="end">0.5</text>
<line x1="388.6" y1="541.3" x2="393.5" y2="541.3" stroke="#000" stroke-width="1.3"/>
<text x="387.26" y="545.39" font-size="11.7" text-anchor="end">0</text>
<line x1="390.56" y1="443.42" x2="393.5" y2="443.42" stroke="#000" stroke-width="1.3"/>
<line x1="390.56" y1="508.67" x2="393.5" y2="508.67" stroke="#000" stroke-width="1.3"/>
<text transform="translate(365.8,477) rotate(-90)" text-anchor="middle" font-size="13.7" font-weight="bold">Relative Expression</text>
<rect x="395.9" y="410.8" width="11.4" height="130.5" fill="#000"/>
<rect x="410.3" y="468.2" width="11.4" height="73.1" fill="#ff0000"/>
<rect x="424.7" y="469.7" width="11.4" height="71.6" fill="#0000c0"/>
<rect x="439.1" y="485.8" width="11.4" height="55.5" fill="#007f00"/>
<line x1="416" y1="437.7" x2="416" y2="498.9" stroke="#000" stroke-width="1.3"/>
<line x1="413.5" y1="437.7" x2="418.5" y2="437.7" stroke="#000" stroke-width="1.3"/>
<line x1="413.5" y1="498.9" x2="418.5" y2="498.9" stroke="#000" stroke-width="1.3"/>
<path d="M416.2 432.85L416.2 431.1M416.2 432.85L417.86 432.31M416.2 432.85L417.23 434.27M416.2 432.85L415.17 434.27M416.2 432.85L414.54 432.31" stroke="#000" stroke-width="0.95" fill="none"/>
<line x1="430.4" y1="464.9" x2="430.4" y2="474.9" stroke="#000" stroke-width="1.3"/>
<line x1="427.9" y1="464.9" x2="432.9" y2="464.9" stroke="#000" stroke-width="1.3"/>
<line x1="427.9" y1="474.9" x2="432.9" y2="474.9" stroke="#000" stroke-width="1.3"/>
<path d="M428.25 460.05L428.25 458.3M428.25 460.05L429.91 459.51M428.25 460.05L429.28 461.47M428.25 460.05L427.22 461.47M428.25 460.05L426.59 459.51" stroke="#000" stroke-width="0.95" fill="none"/>
<path d="M433.35 460.05L433.35 458.3M433.35 460.05L435.01 459.51M433.35 460.05L434.38 461.47M433.35 460.05L432.32 461.47M433.35 460.05L431.69 459.51" stroke="#000" stroke-width="0.95" fill="none"/>
<line x1="444.8" y1="471.2" x2="444.8" y2="500.4" stroke="#000" stroke-width="1.3"/>
<line x1="442.3" y1="471.2" x2="447.3" y2="471.2" stroke="#000" stroke-width="1.3"/>
<line x1="442.3" y1="500.4" x2="447.3" y2="500.4" stroke="#000" stroke-width="1.3"/>
<path d="M443.35 466.65L443.35 464.9M443.35 466.65L445.01 466.11M443.35 466.65L444.38 468.07M443.35 466.65L442.32 468.07M443.35 466.65L441.69 466.11" stroke="#000" stroke-width="0.95" fill="none"/>
<path d="M448.45 466.65L448.45 464.9M448.45 466.65L450.11 466.11M448.45 466.65L449.48 468.07M448.45 466.65L447.42 468.07M448.45 466.65L446.79 466.11" stroke="#000" stroke-width="0.95" fill="none"/>
<line x1="423.3" y1="541.3" x2="423.3" y2="546.3" stroke="#000" stroke-width="1.3"/>
<text x="425.3" y="556.8" font-size="11.2" font-weight="bold" text-anchor="middle">HMOX1</text>
<rect x="465.3" y="410.8" width="11.4" height="130.5" fill="#000"/>
<rect x="479.7" y="487.6" width="11.4" height="53.7" fill="#ff0000"/>
<rect x="494.1" y="457.7" width="11.4" height="83.6" fill="#0000c0"/>
<rect x="508.5" y="459.3" width="11.4" height="82" fill="#007f00"/>
<line x1="485.4" y1="474" x2="485.4" y2="501.4" stroke="#000" stroke-width="1.3"/>
<line x1="482.9" y1="474" x2="487.9" y2="474" stroke="#000" stroke-width="1.3"/>
<line x1="482.9" y1="501.4" x2="487.9" y2="501.4" stroke="#000" stroke-width="1.3"/>
<path d="M483.05 468.95L483.05 467.2M483.05 468.95L484.71 468.41M483.05 468.95L484.08 470.37M483.05 468.95L482.02 470.37M483.05 468.95L481.39 468.41" stroke="#000" stroke-width="0.95" fill="none"/>
<path d="M488.15 468.95L488.15 467.2M488.15 468.95L489.81 468.41M488.15 468.95L489.18 470.37M488.15 468.95L487.12 470.37M488.15 468.95L486.49 468.41" stroke="#000" stroke-width="0.95" fill="none"/>
<line x1="499.8" y1="445.5" x2="499.8" y2="469.4" stroke="#000" stroke-width="1.3"/>
<line x1="497.3" y1="445.5" x2="502.3" y2="445.5" stroke="#000" stroke-width="1.3"/>
<line x1="497.3" y1="469.4" x2="502.3" y2="469.4" stroke="#000" stroke-width="1.3"/>
<path d="M496.85 440.85L496.85 439.1M496.85 440.85L498.51 440.31M496.85 440.85L497.88 442.27M496.85 440.85L495.82 442.27M496.85 440.85L495.19 440.31" stroke="#000" stroke-width="0.95" fill="none"/>
<path d="M501.95 440.85L501.95 439.1M501.95 440.85L503.61 440.31M501.95 440.85L502.98 442.27M501.95 440.85L500.92 442.27M501.95 440.85L500.29 440.31" stroke="#000" stroke-width="0.95" fill="none"/>
<line x1="514.2" y1="447.4" x2="514.2" y2="471.5" stroke="#000" stroke-width="1.3"/>
<line x1="511.7" y1="447.4" x2="516.7" y2="447.4" stroke="#000" stroke-width="1.3"/>
<line x1="511.7" y1="471.5" x2="516.7" y2="471.5" stroke="#000" stroke-width="1.3"/>
<path d="M511.95 444.15L511.95 442.4M511.95 444.15L513.61 443.61M511.95 444.15L512.98 445.57M511.95 444.15L510.92 445.57M511.95 444.15L510.29 443.61" stroke="#000" stroke-width="0.95" fill="none"/>
<path d="M517.05 444.15L517.05 442.4M517.05 444.15L518.71 443.61M517.05 444.15L518.08 445.57M517.05 444.15L516.02 445.57M517.05 444.15L515.39 443.61" stroke="#000" stroke-width="0.95" fill="none"/>
<line x1="492.7" y1="541.3" x2="492.7" y2="546.3" stroke="#000" stroke-width="1.3"/>
<text x="491.3" y="556.8" font-size="11.2" font-weight="bold" text-anchor="middle">NQO1</text>
<rect x="534.7" y="410.8" width="11.4" height="130.5" fill="#000"/>
<rect x="549.1" y="478.4" width="11.4" height="62.9" fill="#ff0000"/>
<rect x="563.5" y="446.2" width="11.4" height="95.1" fill="#0000c0"/>
<rect x="577.9" y="451.9" width="11.4" height="89.4" fill="#007f00"/>
<line x1="554.8" y1="471.4" x2="554.8" y2="485.6" stroke="#000" stroke-width="1.3"/>
<line x1="552.3" y1="471.4" x2="557.3" y2="471.4" stroke="#000" stroke-width="1.3"/>
<line x1="552.3" y1="485.6" x2="557.3" y2="485.6" stroke="#000" stroke-width="1.3"/>
<path d="M552.05 467.15L552.05 465.4M552.05 467.15L553.71 466.61M552.05 467.15L553.08 468.57M552.05 467.15L551.02 468.57M552.05 467.15L550.39 466.61" stroke="#000" stroke-width="0.95" fill="none"/>
<path d="M557.15 467.15L557.15 465.4M557.15 467.15L558.81 466.61M557.15 467.15L558.18 468.57M557.15 467.15L556.12 468.57M557.15 467.15L555.49 466.61" stroke="#000" stroke-width="0.95" fill="none"/>
<line x1="569.2" y1="434.9" x2="569.2" y2="457.1" stroke="#000" stroke-width="1.3"/>
<line x1="566.7" y1="434.9" x2="571.7" y2="434.9" stroke="#000" stroke-width="1.3"/>
<line x1="566.7" y1="457.1" x2="571.7" y2="457.1" stroke="#000" stroke-width="1.3"/>
<path d="M566.15 431.25L566.15 429.5M566.15 431.25L567.81 430.71M566.15 431.25L567.18 432.67M566.15 431.25L565.12 432.67M566.15 431.25L564.49 430.71" stroke="#000" stroke-width="0.95" fill="none"/>
<path d="M571.25 431.25L571.25 429.5M571.25 431.25L572.91 430.71M571.25 431.25L572.28 432.67M571.25 431.25L570.22 432.67M571.25 431.25L569.59 430.71" stroke="#000" stroke-width="0.95" fill="none"/>
<line x1="583.6" y1="440.3" x2="583.6" y2="463" stroke="#000" stroke-width="1.3"/>
<line x1="581.1" y1="440.3" x2="586.1" y2="440.3" stroke="#000" stroke-width="1.3"/>
<line x1="581.1" y1="463" x2="586.1" y2="463" stroke="#000" stroke-width="1.3"/>
<path d="M581.45 436.25L581.45 434.5M581.45 436.25L583.11 435.71M581.45 436.25L582.48 437.67M581.45 436.25L580.42 437.67M581.45 436.25L579.79 435.71" stroke="#000" stroke-width="0.95" fill="none"/>
<path d="M586.55 436.25L586.55 434.5M586.55 436.25L588.21 435.71M586.55 436.25L587.58 437.67M586.55 436.25L585.52 437.67M586.55 436.25L584.89 435.71" stroke="#000" stroke-width="0.95" fill="none"/>
<line x1="562.1" y1="541.3" x2="562.1" y2="546.3" stroke="#000" stroke-width="1.3"/>
<text x="560.7" y="556.8" font-size="11.2" font-weight="bold" text-anchor="middle">GCLM</text>
<line x1="393.5" y1="541.3" x2="589.9" y2="541.3" stroke="#000" stroke-width="1.3"/>
<rect x="611.1" y="412.1" width="12.9" height="6.1" fill="#000000"/>
<text x="631.1" y="418" font-size="9.7">DMSO</text>
<rect x="611.1" y="423.2" width="12.9" height="6.1" fill="#ff0000"/>
<text x="631.1" y="429.1" font-size="9.7">TAK-228</text>
<rect x="611.1" y="435" width="12.9" height="6.1" fill="#0000c0"/>
<text x="631.1" y="440.9" font-size="9.7">KU-0063794</text>
<rect x="611.1" y="447.3" width="12.9" height="6.1" fill="#007f00"/>
<text x="631.1" y="453.2" font-size="9.7">Paxalisib</text>
<text x="1.6" y="602" font-size="20.8" font-weight="bold">G.</text>
<line x1="37.4" y1="610.75" x2="37.4" y2="733.25" stroke="#000" stroke-width="1.3"/>
<line x1="32.4" y1="611.4" x2="37.4" y2="611.4" stroke="#000" stroke-width="1.3"/>
<text x="32.86" y="615.53" font-size="11.8" text-anchor="end">5</text>
<line x1="32.4" y1="635.64" x2="37.4" y2="635.64" stroke="#000" stroke-width="1.3"/>
<text x="32.86" y="639.77" font-size="11.8" text-anchor="end">4</text>
<line x1="32.4" y1="659.88" x2="37.4" y2="659.88" stroke="#000" stroke-width="1.3"/>
<text x="32.86" y="664.01" font-size="11.8" text-anchor="end">3</text>
<line x1="32.4" y1="684.12" x2="37.4" y2="684.12" stroke="#000" stroke-width="1.3"/>
<text x="32.86" y="688.25" font-size="11.8" text-anchor="end">2</text>
<line x1="32.4" y1="708.36" x2="37.4" y2="708.36" stroke="#000" stroke-width="1.3"/>
<text x="32.86" y="712.49" font-size="11.8" text-anchor="end">1</text>
<line x1="32.4" y1="732.6" x2="37.4" y2="732.6" stroke="#000" stroke-width="1.3"/>
<text x="32.86" y="736.73" font-size="11.8" text-anchor="end">0</text>
<text transform="translate(21.6,671) rotate(-90)" text-anchor="middle" font-size="13.6" font-weight="bold">Relative Expression</text>
<rect x="41.2" y="708.36" width="35.3" height="24.24" fill="#000"/>
<rect x="80.2" y="622.8" width="34.9" height="109.8" fill="#740596"/>
<line x1="97.6" y1="618.4" x2="97.6" y2="627.4" stroke="#000" stroke-width="1.3"/>
<line x1="92.6" y1="618.4" x2="102.6" y2="618.4" stroke="#000" stroke-width="1.3"/>
<line x1="92.6" y1="627.4" x2="102.6" y2="627.4" stroke="#000" stroke-width="1.3"/>
<line x1="37.4" y1="732.6" x2="118.8" y2="732.6" stroke="#000" stroke-width="1.3"/>
<line x1="56.1" y1="608.6" x2="97.2" y2="608.6" stroke="#000" stroke-width="1.8"/>
<path d="M86.15 602.35L86.15 599.2M86.15 602.35L89.15 601.38M86.15 602.35L88 604.9M86.15 602.35L84.3 604.9M86.15 602.35L83.15 601.38" stroke="#000" stroke-width="1.35" fill="none"/>
<path d="M94.25 602.35L94.25 599.2M94.25 602.35L97.25 601.38M94.25 602.35L96.1 604.9M94.25 602.35L92.4 604.9M94.25 602.35L91.25 601.38" stroke="#000" stroke-width="1.35" fill="none"/>
<text x="72.5" y="746.5" font-size="11.1" font-weight="bold" text-anchor="middle">NFE2L2</text>
<rect x="125.1" y="611" width="10.8" height="5.5" fill="#000"/>
<rect x="125.1" y="629.3" width="10.8" height="5.3" fill="#740596"/>
<text x="141.6" y="616.5" font-size="8.2">Control</text>
<text x="141.6" y="629.8" font-size="8.2">NRF2</text>
<text x="141.6" y="639.2" font-size="8.2">Activation</text>
<text x="185.7" y="602" font-size="20.8" font-weight="bold">H.</text>
<line x1="235.1" y1="610.15" x2="235.1" y2="732.85" stroke="#000" stroke-width="1.3"/>
<line x1="229.8" y1="610.8" x2="235.1" y2="610.8" stroke="#000" stroke-width="1.3"/>
<text x="228.16" y="614.9" font-size="11.7" text-anchor="end">2.0</text>
<line x1="229.8" y1="641.15" x2="235.1" y2="641.15" stroke="#000" stroke-width="1.3"/>
<text x="228.16" y="645.25" font-size="11.7" text-anchor="end">1.5</text>
<line x1="229.8" y1="671.5" x2="235.1" y2="671.5" stroke="#000" stroke-width="1.3"/>
<text x="228.16" y="675.6" font-size="11.7" text-anchor="end">1.0</text>
<line x1="229.8" y1="701.85" x2="235.1" y2="701.85" stroke="#000" stroke-width="1.3"/>
<text x="228.16" y="705.95" font-size="11.7" text-anchor="end">0.5</text>
<line x1="229.8" y1="732.2" x2="235.1" y2="732.2" stroke="#000" stroke-width="1.3"/>
<text x="228.16" y="736.3" font-size="11.7" text-anchor="end">0</text>
<text transform="translate(207.8,675.9) rotate(-90)" text-anchor="middle" font-size="13.6" font-weight="bold">Relative Expression</text>
<rect x="236.4" y="671.5" width="14.8" height="60.7" fill="#000"/>
<rect x="253" y="711.7" width="14.8" height="20.5" fill="#0000ff"/>
<rect x="270" y="627.4" width="14.8" height="104.8" fill="#740596"/>
<line x1="260.4" y1="707.1" x2="260.4" y2="716.3" stroke="#000" stroke-width="1.2"/>
<line x1="257.15" y1="707.1" x2="263.65" y2="707.1" stroke="#000" stroke-width="1.2"/>
<line x1="257.15" y1="716.3" x2="263.65" y2="716.3" stroke="#000" stroke-width="1.2"/>
<line x1="277.4" y1="614.6" x2="277.4" y2="640.7" stroke="#000" stroke-width="1.2"/>
<line x1="274.15" y1="614.6" x2="280.65" y2="614.6" stroke="#000" stroke-width="1.2"/>
<line x1="274.15" y1="640.7" x2="280.65" y2="640.7" stroke="#000" stroke-width="1.2"/>
<line x1="260.4" y1="732.2" x2="260.4" y2="737.2" stroke="#000" stroke-width="1.3"/>
<text x="258.4" y="748" font-size="11" font-weight="bold" text-anchor="middle">HMOX1</text>
<rect x="301.65" y="671.5" width="14.8" height="60.7" fill="#000"/>
<rect x="318.25" y="723.2" width="14.8" height="9" fill="#0000ff"/>
<rect x="335.25" y="669" width="14.8" height="63.2" fill="#740596"/>
<line x1="325.65" y1="718.6" x2="325.65" y2="725.7" stroke="#000" stroke-width="1.2"/>
<line x1="322.4" y1="718.6" x2="328.9" y2="718.6" stroke="#000" stroke-width="1.2"/>
<line x1="322.4" y1="725.7" x2="328.9" y2="725.7" stroke="#000" stroke-width="1.2"/>
<line x1="342.65" y1="662.6" x2="342.65" y2="674.6" stroke="#000" stroke-width="1.2"/>
<line x1="339.4" y1="662.6" x2="345.9" y2="662.6" stroke="#000" stroke-width="1.2"/>
<line x1="339.4" y1="674.6" x2="345.9" y2="674.6" stroke="#000" stroke-width="1.2"/>
<line x1="325.65" y1="732.2" x2="325.65" y2="737.2" stroke="#000" stroke-width="1.3"/>
<text x="323.65" y="748" font-size="11" font-weight="bold" text-anchor="middle">NQO1</text>
<rect x="366.9" y="671.5" width="14.8" height="60.7" fill="#000"/>
<rect x="383.5" y="723.2" width="14.8" height="9" fill="#0000ff"/>
<rect x="400.5" y="682.8" width="14.8" height="49.4" fill="#740596"/>
<line x1="390.9" y1="718.6" x2="390.9" y2="728.3" stroke="#000" stroke-width="1.2"/>
<line x1="387.65" y1="718.6" x2="394.15" y2="718.6" stroke="#000" stroke-width="1.2"/>
<line x1="387.65" y1="728.3" x2="394.15" y2="728.3" stroke="#000" stroke-width="1.2"/>
<line x1="407.9" y1="678" x2="407.9" y2="687.4" stroke="#000" stroke-width="1.2"/>
<line x1="404.65" y1="678" x2="411.15" y2="678" stroke="#000" stroke-width="1.2"/>
<line x1="404.65" y1="687.4" x2="411.15" y2="687.4" stroke="#000" stroke-width="1.2"/>
<line x1="390.9" y1="732.2" x2="390.9" y2="737.2" stroke="#000" stroke-width="1.3"/>
<text x="388.9" y="748" font-size="11" font-weight="bold" text-anchor="middle">GCLM</text>
<line x1="235.1" y1="732.2" x2="418" y2="732.2" stroke="#000" stroke-width="1.3"/>
<line x1="240" y1="607" x2="276.9" y2="607" stroke="#000" stroke-width="1.8"/>
<path d="M252.55 600.35L252.55 597.2M252.55 600.35L255.55 599.38M252.55 600.35L254.4 602.9M252.55 600.35L250.7 602.9M252.55 600.35L249.55 599.38" stroke="#000" stroke-width="1.35" fill="none"/>
<path d="M260.65 600.35L260.65 597.2M260.65 600.35L263.65 599.38M260.65 600.35L262.5 602.9M260.65 600.35L258.8 602.9M260.65 600.35L257.65 599.38" stroke="#000" stroke-width="1.35" fill="none"/>
<line x1="240.4" y1="665.2" x2="258.7" y2="665.2" stroke="#000" stroke-width="1.8"/>
<path d="M247.45 659.95L247.45 656.8M247.45 659.95L250.45 658.98M247.45 659.95L249.3 662.5M247.45 659.95L245.6 662.5M247.45 659.95L244.45 658.98" stroke="#000" stroke-width="1.35" fill="none"/>
<path d="M255.55 659.95L255.55 656.8M255.55 659.95L258.55 658.98M255.55 659.95L257.4 662.5M255.55 659.95L253.7 662.5M255.55 659.95L252.55 658.98" stroke="#000" stroke-width="1.35" fill="none"/>
<line x1="307.9" y1="645.5" x2="345.2" y2="645.5" stroke="#000" stroke-width="1.8"/>
<text x="323.8" y="642.5" font-size="11.8" text-anchor="middle">NS</text>
<line x1="307.9" y1="659.2" x2="326.3" y2="659.2" stroke="#000" stroke-width="1.8"/>
<path d="M314.35 654.05L314.35 650.9M314.35 654.05L317.35 653.08M314.35 654.05L316.2 656.6M314.35 654.05L312.5 656.6M314.35 654.05L311.35 653.08" stroke="#000" stroke-width="1.35" fill="none"/>
<path d="M322.45 654.05L322.45 650.9M322.45 654.05L325.45 653.08M322.45 654.05L324.3 656.6M322.45 654.05L320.6 656.6M322.45 654.05L319.45 653.08" stroke="#000" stroke-width="1.35" fill="none"/>
<line x1="374.5" y1="651.8" x2="411.2" y2="651.8" stroke="#000" stroke-width="1.8"/>
<path d="M393 645.65L393 642.5M393 645.65L396 644.68M393 645.65L394.85 648.2M393 645.65L391.15 648.2M393 645.65L390 644.68" stroke="#000" stroke-width="1.35" fill="none"/>
<line x1="374.5" y1="666.5" x2="392" y2="666.5" stroke="#000" stroke-width="1.8"/>
<path d="M380.55 660.55L380.55 657.4M380.55 660.55L383.55 659.58M380.55 660.55L382.4 663.1M380.55 660.55L378.7 663.1M380.55 660.55L377.55 659.58" stroke="#000" stroke-width="1.35" fill="none"/>
<path d="M388.65 660.55L388.65 657.4M388.65 660.55L391.65 659.58M388.65 660.55L390.5 663.1M388.65 660.55L386.8 663.1M388.65 660.55L385.65 659.58" stroke="#000" stroke-width="1.35" fill="none"/>
<rect x="391.1" y="592.6" width="9" height="4.3" fill="#000"/>
<rect x="391.1" y="604.4" width="9" height="4.3" fill="#0000ff"/>
<rect x="391.1" y="620.2" width="9" height="4.3" fill="#740596"/>
<text x="405.6" y="597" font-size="7">DMSO</text>
<text x="405.6" y="608.9" font-size="7">TAK-228</text>
<text x="405.6" y="620.6" font-size="7">NRF2 Activation</text>
<text x="405.6" y="628.8" font-size="7">TAK-228</text>
<text x="475.2" y="602" font-size="20.8" font-weight="bold">I.</text>
<text x="511.8" y="601.3" font-size="13.5" font-weight="bold">GSH Detection Assay</text>
<line x1="528.3" y1="628.35" x2="528.3" y2="748.25" stroke="#000" stroke-width="1.3"/>
<line x1="523" y1="629" x2="528.3" y2="629" stroke="#000" stroke-width="1.3"/>
<text x="521.84" y="632.99" font-size="11.4" text-anchor="end">.004</text>
<line x1="523" y1="658.65" x2="528.3" y2="658.65" stroke="#000" stroke-width="1.3"/>
<text x="521.84" y="662.64" font-size="11.4" text-anchor="end">.003</text>
<line x1="523" y1="688.3" x2="528.3" y2="688.3" stroke="#000" stroke-width="1.3"/>
<text x="521.84" y="692.29" font-size="11.4" text-anchor="end">.002</text>
<line x1="523" y1="717.95" x2="528.3" y2="717.95" stroke="#000" stroke-width="1.3"/>
<text x="521.84" y="721.94" font-size="11.4" text-anchor="end">.001</text>
<line x1="523" y1="747.6" x2="528.3" y2="747.6" stroke="#000" stroke-width="1.3"/>
<text x="521.84" y="751.59" font-size="11.4" text-anchor="end">0</text>
<text transform="translate(497,685.5) rotate(-90)" text-anchor="middle" font-size="13.7" font-weight="bold">Absorbance</text>
<line x1="528.3" y1="747.6" x2="607.5" y2="747.6" stroke="#000" stroke-width="1.3"/>
<line x1="543.1" y1="620" x2="588" y2="620" stroke="#000" stroke-width="1.8"/>
<text x="564.7" y="616.8" font-size="11.4" text-anchor="middle">NS</text>
<line x1="543.6" y1="633.1" x2="565.8" y2="633.1" stroke="#000" stroke-width="1.8"/>
<path d="M553.95 625.75L553.95 622.6M553.95 625.75L556.95 624.78M553.95 625.75L555.8 628.3M553.95 625.75L552.1 628.3M553.95 625.75L550.95 624.78" stroke="#000" stroke-width="1.35" fill="none"/>
<path d="M562.05 625.75L562.05 622.6M562.05 625.75L565.05 624.78M562.05 625.75L563.9 628.3M562.05 625.75L560.2 628.3M562.05 625.75L559.05 624.78" stroke="#000" stroke-width="1.35" fill="none"/>
<circle cx="543.9" cy="642.1" r="1.9" fill="#000"/>
<circle cx="537.3" cy="664.8" r="1.9" fill="#000"/>
<circle cx="550.5" cy="664.4" r="1.9" fill="#000"/>
<circle cx="542" cy="662" r="1.9" fill="#000"/>
<circle cx="545.8" cy="663.3" r="1.9" fill="#000"/>
<circle cx="543.9" cy="666.7" r="1.9" fill="#000"/>
<circle cx="543.9" cy="670.8" r="1.9" fill="#000"/>
<circle cx="543.9" cy="675.5" r="1.9" fill="#000"/>
<line x1="543.9" y1="660.6" x2="543.9" y2="667.6" stroke="#000" stroke-width="1.3"/>
<line x1="539.9" y1="660.6" x2="547.9" y2="660.6" stroke="#000" stroke-width="1.3"/>
<line x1="539.9" y1="667.6" x2="547.9" y2="667.6" stroke="#000" stroke-width="1.3"/>
<line x1="536" y1="664.8" x2="551.4" y2="664.8" stroke="#000" stroke-width="1.3"/>
<circle cx="563.7" cy="684.6" r="1.9" fill="#0a0aff"/>
<circle cx="571.3" cy="682.2" r="1.9" fill="#0a0aff"/>
<circle cx="567.5" cy="690.8" r="1.9" fill="#0a0aff"/>
<circle cx="563.7" cy="695" r="1.9" fill="#0a0aff"/>
<circle cx="571.3" cy="696.9" r="1.9" fill="#0a0aff"/>
<circle cx="563.7" cy="707.3" r="1.9" fill="#0a0aff"/>
<circle cx="571.3" cy="707.8" r="1.9" fill="#0a0aff"/>
<circle cx="567.5" cy="716.3" r="1.9" fill="#0a0aff"/>
<line x1="567.5" y1="693.1" x2="567.5" y2="702" stroke="#000" stroke-width="1.3"/>
<line x1="563.5" y1="693.1" x2="571.5" y2="693.1" stroke="#000" stroke-width="1.3"/>
<line x1="563.5" y1="702" x2="571.5" y2="702" stroke="#000" stroke-width="1.3"/>
<line x1="560" y1="697.5" x2="575.6" y2="697.5" stroke="#000" stroke-width="1.3"/>
<circle cx="591.1" cy="650" r="1.9" fill="#b41ee6"/>
<circle cx="591.1" cy="654.4" r="1.9" fill="#b41ee6"/>
<circle cx="585.1" cy="660" r="1.9" fill="#b41ee6"/>
<circle cx="597.7" cy="663.8" r="1.9" fill="#b41ee6"/>
<circle cx="591.1" cy="661.9" r="1.9" fill="#b41ee6"/>
<circle cx="591.1" cy="666.3" r="1.9" fill="#b41ee6"/>
<circle cx="588.3" cy="674.8" r="1.9" fill="#b41ee6"/>
<circle cx="594.5" cy="672.3" r="1.9" fill="#b41ee6"/>
<line x1="591.1" y1="660" x2="591.1" y2="666.1" stroke="#000" stroke-width="1.3"/>
<line x1="587.1" y1="660" x2="595.1" y2="660" stroke="#000" stroke-width="1.3"/>
<line x1="587.1" y1="666.1" x2="595.1" y2="666.1" stroke="#000" stroke-width="1.3"/>
<line x1="583.6" y1="662.9" x2="598.7" y2="662.9" stroke="#000" stroke-width="1.3"/>
<circle cx="610.9" cy="632.5" r="1.8" fill="#000"/>
<circle cx="610.9" cy="646" r="1.8" fill="#0a0aff"/>
<circle cx="610.9" cy="664.4" r="1.8" fill="#b41ee6"/>
<text x="622.2" y="635.4" font-size="8">DMSO</text>
<text x="622.2" y="648.8" font-size="8">TAK-228</text>
<text x="622.2" y="662.3" font-size="8">NRF2 Activation</text>
<text x="622.2" y="671.3" font-size="8">TAK-228</text>
</g>
</svg>
</body></html>
